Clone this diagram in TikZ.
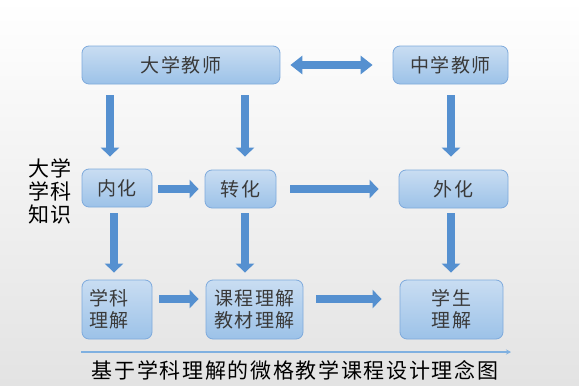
\documentclass[tikz,border=0pt]{standalone}
\usepackage{fontspec}
\setmainfont{Noto Sans CJK SC}[LetterSpace=8]
\usetikzlibrary{arrows.meta}
\definecolor{boxtop}{HTML}{C9DDF2}
\definecolor{boxbot}{HTML}{9CC2E8}
\definecolor{boxedge}{HTML}{7EAADC}
\definecolor{arrowblue}{HTML}{5590D0}
\definecolor{boxtext}{HTML}{3A3A3A}
\definecolor{lineblue}{HTML}{7FB0E0}
\tikzset{
  box/.style={draw=boxedge, line width=0.8pt, rounded corners=7pt, top color=boxtop, bottom color=boxbot,
    text=boxtext, font=\fontsize{19}{22}\selectfont, inner sep=0pt, align=center},
  flow/.style={draw=arrowblue, line width=8.5pt, -{Triangle[width=18pt,length=9pt]}},
  flowboth/.style={draw=arrowblue, line width=8.5pt, {Triangle[width=18pt,length=12pt]}-{Triangle[width=18pt,length=12pt]}},
}
\begin{document}
\begin{tikzpicture}[x=1pt,y=-1pt]
\useasboundingbox (0,0) rectangle (579,386);
\shade[top color=white, bottom color=black!11] (0,0) rectangle (579,386);

\node[box, minimum width=198pt, minimum height=38pt] (dajiao) at (181,65) {大学教师};
\node[box, minimum width=115pt, minimum height=38pt] (zhongjiao) at (450.5,65) {中学教师};
\node[box, minimum width=70pt, minimum height=38pt] (neihua) at (117,188) {内化};
\node[box, minimum width=71pt, minimum height=38pt] (zhuanhua) at (240.5,189) {转化};
\node[box, minimum width=109pt, minimum height=38pt] (waihua) at (453.5,189) {外化};
\node[box, minimum width=70pt, minimum height=59pt, text width=56pt, align=left] (xueke) at (117,309.5) {学科\\理解};
\node[box, minimum width=97pt, minimum height=59pt] (kecheng) at (254.5,309.5) {课程理解\\教材理解};
\node[box, minimum width=103pt, minimum height=59pt] (xuesheng) at (451.5,309.5) {学生\\理解};

\node[font=\fontsize{21}{23}\selectfont, align=center, inner sep=0pt] (zhishi) at (50,191) {大学\\学科\\知识};

\draw[flowboth, shorten <=10pt, shorten >=20pt] (dajiao.east) -- (zhongjiao.west);
\draw[flow, shorten <=11pt, shorten >=12pt] ([xshift=-7pt]neihua.north |- dajiao.south) -- ([xshift=-7pt]neihua.north);
\draw[flow, shorten <=11pt, shorten >=13pt] ([xshift=4.5pt]zhuanhua.north |- dajiao.south) -- ([xshift=4.5pt]zhuanhua.north);
\draw[flow, shorten <=11pt, shorten >=13pt] ([xshift=-2.5pt]waihua.north |- zhongjiao.south) -- ([xshift=-2.5pt]waihua.north);

\draw[flow, shorten <=6pt, shorten >=6pt] ([yshift=-1pt]neihua.east) -- ([yshift=-1pt]neihua.east -| zhuanhua.west);
\draw[flow, shorten <=14pt, shorten >=20pt] (zhuanhua.east) -- (waihua.west);

\draw[flow, shorten <=6pt, shorten >=7pt] ([xshift=-3pt]neihua.south) -- ([xshift=-3pt]neihua.south |- xueke.north);
\draw[flow, shorten <=5pt, shorten >=7pt] ([xshift=4.5pt]zhuanhua.south) -- ([xshift=4.5pt]zhuanhua.south |- kecheng.north);
\draw[flow, shorten <=5pt, shorten >=7pt] ([xshift=-2.5pt]waihua.south) -- ([xshift=-2.5pt]waihua.south |- xuesheng.north);

\draw[flow, shorten <=7pt, shorten >=7pt] ([yshift=10.5pt]xueke.east) -- ([yshift=10.5pt]kecheng.west);
\draw[flow, shorten <=13pt, shorten >=18pt] ([yshift=10.5pt]kecheng.east) -- ([yshift=10.5pt]xuesheng.west);

\coordinate (linestart) at (81,352);
\coordinate (lineend) at (511,352);
\draw[lineblue, line width=2pt, -{Stealth[length=5pt,width=5pt]}] (linestart) -- (lineend);
\node[font=\fontsize{21}{23}\selectfont, inner sep=0pt] (caption) at (295,370) {基于学科理解的微格教学课程设计理念图};
\end{tikzpicture}
\end{document}
